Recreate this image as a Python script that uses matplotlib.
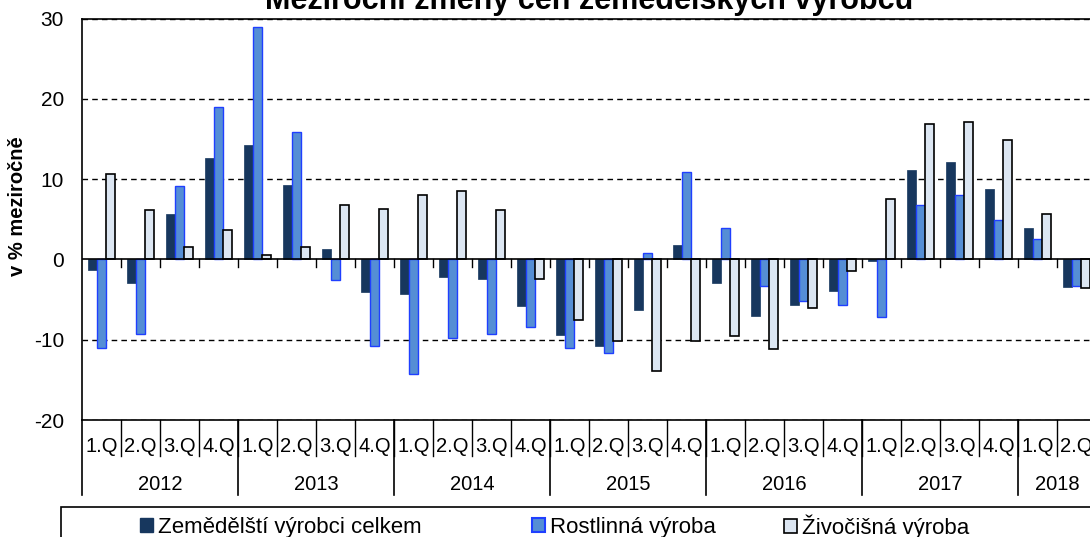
import matplotlib
matplotlib.use("Agg")
import matplotlib.pyplot as plt
from matplotlib.patches import Rectangle
import numpy as np

plt.rcParams['font.family'] = ['Liberation Sans', 'DejaVu Sans']

years = ['2012', '2013', '2014', '2015', '2016', '2017', '2018']
quarters_per_year = [4, 4, 4, 4, 4, 4, 2]
quarter_names = ['1.Q', '2.Q', '3.Q', '4.Q']

celkem = [-1.3, -2.9, 5.6, 12.6, 14.3, 9.3, 1.3, -4.1,
          -4.3, -2.2, -2.4, -5.8, -9.4, -10.8, -6.3, 1.8,
          -2.9, -7.0, -5.7, -3.9, -0.2, 11.1, 12.1, 8.8,
          3.9, -3.4]
rostlinna = [-11.0, -9.3, 9.2, 19.0, 28.9, 15.9, -2.6, -10.8,
             -14.3, -9.8, -9.3, -8.4, -11.0, -11.7, 0.8, 10.9,
             3.9, -3.3, -5.2, -5.7, -7.2, 6.8, 8.0, 4.9,
             2.5, -3.3]
zivocisna = [10.6, 6.1, 1.5, 3.7, 0.5, 1.5, 6.8, 6.3,
             8.0, 8.5, 6.1, -2.4, -7.6, -10.2, -13.9, -10.2,
             -9.5, -11.2, -6.0, -1.4, 7.5, 16.8, 17.1, 14.9,
             5.6, -3.6]

labels = ['Zemědělští výrobci celkem', 'Rostlinná výroba', 'Živočišná výroba']
title = 'Meziroční změny cen zemědělských výrobců'
ylabel = 'v % meziročně'
yticks = [-20, -10, 0, 10, 20, 30]

c_dark = '#17375E'
c_blue = '#558ED5'
c_blue_edge = '#1F3FFF'
c_light = '#DCE6F2'

W, H = 1090, 537
fig = plt.figure(figsize=(W / 100, H / 100), dpi=100)
ax_left, ax_right, ax_top, ax_bottom = 82, 1096, 18.5, 420
ax = fig.add_axes([ax_left / W, (H - ax_bottom) / H,
                   (ax_right - ax_left) / W, (ax_bottom - ax_top) / H])

n = len(celkem)
x = np.arange(n)
bw = 0.225
ax.bar(x - bw, celkem, bw, color=c_dark, edgecolor=c_dark, linewidth=0.5, zorder=3)
ax.bar(x, rostlinna, bw, color=c_blue, edgecolor=c_blue_edge, linewidth=1.0, zorder=3)
ax.bar(x + bw, zivocisna, bw, color=c_light, edgecolor='black', linewidth=1.2, zorder=3)

ax.set_xlim(-0.5, n - 0.5)
ax.set_ylim(-20, 30)
ax.set_yticks(yticks)
ax.set_yticklabels([str(v) for v in yticks], fontsize=15)
ax.tick_params(axis='y', length=0, pad=13)
ax.set_xticks([])
for yv in yticks:
    if yv != 0:
        ax.axhline(yv, color='black', linestyle=(0, (4, 3)), linewidth=1.0, zorder=1)
ax.axhline(0, color='black', linewidth=1.2, zorder=4)

for s in ['top', 'bottom', 'left']:
    ax.spines[s].set_linewidth(1.2)
ax.spines['right'].set_visible(False)

# zero-line ticks at quarter boundaries
for b in range(1, n + 1):
    ax.plot([b - 0.5, b - 0.5], [0, -0.9], color='black', linewidth=1.0, zorder=4,
            clip_on=False)

# category labels below the plot
trans_ax = ax.get_xaxis_transform()
axh = ax_bottom - ax_top
q_label_y = -(446 - ax_bottom) / axh
q_sep_y = -(456 - ax_bottom) / axh
y_sep_y = -(495 - ax_bottom) / axh
y_label_y = -(484 - ax_bottom) / axh

idx = 0
ax.plot([-0.5, -0.5], [0, y_sep_y], transform=trans_ax, color='black', lw=1.2, clip_on=False)
for yr, nq in zip(years, quarters_per_year):
    start = idx
    for q in range(nq):
        ax.text(idx, q_label_y, quarter_names[q], transform=trans_ax, ha='center',
                va='center', fontsize=14.5)
        if idx > 0:
            ax.plot([idx - 0.5, idx - 0.5], [0, q_sep_y], transform=trans_ax,
                    color='black', lw=1.0, clip_on=False)
        idx += 1
    ax.text((start + idx - 1) / 2, y_label_y, yr, transform=trans_ax, ha='center',
            va='center', fontsize=14.5)
    ax.plot([idx - 0.5, idx - 0.5], [0, y_sep_y], transform=trans_ax, color='black',
            lw=1.2, clip_on=False)

ax.set_ylabel(ylabel, fontsize=14.5, fontweight='bold')
ax.yaxis.set_label_coords((27 - ax_left) / (ax_right - ax_left), (ax_bottom - 206) / axh)
ax.set_title(title, fontsize=22, fontweight='bold', pad=6.8)

# legend
fig.patches.append(Rectangle((61 / W, -0.05), 1.0, (H - 507) / H + 0.05,
                             transform=fig.transFigure, fill=False,
                             edgecolor='black', linewidth=1.2))
handles = [Rectangle((0, 0), 1, 1, facecolor=c_dark, edgecolor=c_dark),
           Rectangle((0, 0), 1, 1, facecolor=c_blue, edgecolor=c_blue_edge, linewidth=1.5),
           Rectangle((0, 0), 1, 1, facecolor=c_light, edgecolor='black', linewidth=1.2)]
leg_x = [140, 532, 784]
for h, lab, lx in zip(handles, labels, leg_x):
    fig.legend([h], [lab], loc='center left', bbox_to_anchor=(lx / W, (H - 527) / H),
               frameon=False, fontsize=16, borderpad=0, borderaxespad=0,
               handlelength=0.59, handleheight=0.59, handletextpad=0.2)

fig.savefig('out.png', dpi=100)
